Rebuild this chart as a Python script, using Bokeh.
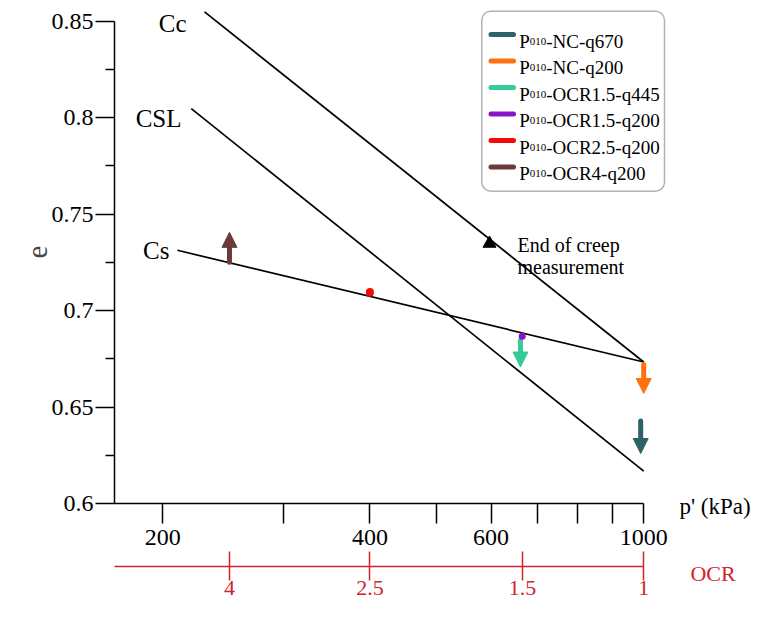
from bokeh.plotting import figure
from bokeh.layouts import row
from bokeh.models import (Range1d, LogAxis, LinearAxis, FixedTicker, Label, BoxAnnotation, Arrow,
                          NormalHead, LogScale)
from bokeh.embed import file_html
from bokeh.resources import INLINE

# ---------------- data ----------------
p_ticks = [200, 300, 400, 500, 600, 700, 800, 900, 1000]
p_tick_labels = ["200", "", "400", "", "600", "", "", "", "1000"]
e_ticks = [0.6, 0.65, 0.7, 0.75, 0.8, 0.85]
e_tick_labels = ["0.6", "0.65", "0.7", "0.75", "0.8", "0.85"]
e_minor_ticks = [0.625, 0.675, 0.725, 0.775, 0.825]
ocr_ticks = [4, 2.5, 1.5, 1]
ocr_tick_labels = ["4", "2.5", "1.5", "1"]

cc_p = [230, 1000]
cc_e = [0.8547, 0.6733]
csl_p = [220, 1000]
csl_e = [0.8046, 0.6168]
cs_p = [210, 1000]
cs_e = [0.7312, 0.6733]

tests = ["NC-q670", "NC-q200", "OCR1.5-q445", "OCR1.5-q200", "OCR2.5-q200", "OCR4-q200"]
test_p = [990, 1000, 662, 666, 400, 250]
test_e_start = [0.6427, 0.6720, 0.6846, 0.6866, 0.7096, 0.7250]
test_e_end = [0.6259, 0.6570, 0.6707, 0.6866, 0.7092, 0.7405]

# ---------------- styles ----------------
FONT = "Liberation Serif"
RED = "#D0242B"
test_colors = ["#2E6366", "#FF7010", "#36C99A", "#8A12C8", "#F50A0A", "#6B3A3A"]
shaft_widths = [5, 5, 5, 7, 8, 5]
HEAD = 15

# layout helpers (canvas pixel -> data coordinate)
X200, PX_PER_DEC = 162.3, 688.0
FRAME_L, FRAME_R, FRAME_B = 114, 670, 503
PX_PER_E = 1930.0
def px2p(x):
    return 200 * 10 ** ((x - X200) / PX_PER_DEC)
def py2e(y):
    return 0.6 + (FRAME_B - y) / PX_PER_E

W, H = 752, 604
x_start, x_end = px2p(FRAME_L), px2p(FRAME_R)
y_start, y_end = 0.6, py2e(0)

p = figure(width=FRAME_R, height=H, x_axis_type="log",
           x_range=Range1d(x_start, x_end), y_range=Range1d(y_start, y_end),
           output_backend="svg", toolbar_location=None,
           min_border_left=FRAME_L, min_border_right=0, min_border_top=0,
           min_border_bottom=H - FRAME_B)
p.outline_line_color = None
p.grid.visible = False

# ---- x axis (p') ----
xa = p.xaxis[0]
xa.ticker = FixedTicker(ticks=p_ticks, minor_ticks=[])
xa.major_label_overrides = {t: l for t, l in zip(p_ticks, p_tick_labels)}
xa.bounds = (x_start, max(p_ticks))
xa.major_tick_out = 20
xa.major_tick_in = 0
xa.minor_tick_out = 0
xa.minor_tick_in = 0
xa.axis_line_width = 1.5
xa.major_tick_line_width = 1.5
xa.major_label_text_font = FONT
xa.major_label_text_font_size = "24px"
xa.major_label_text_color = "black"
xa.major_label_standoff = 6
xa.axis_label = "\u00a0"
xa.axis_label_text_font_size = "10px"
xa.axis_label_standoff = 5

# ---- OCR axis ----
p.extra_x_ranges = {"ocr": Range1d(1000 / x_start, 1000 / x_end)}
p.extra_x_scales = {"ocr": LogScale()}
oa = LogAxis(x_range_name="ocr", ticker=FixedTicker(ticks=ocr_ticks, minor_ticks=[]))
oa.major_label_overrides = {t: l for t, l in zip(ocr_ticks, ocr_tick_labels)}
oa.bounds = (1, 1000 / px2p(107.3))
oa.axis_line_color = RED
oa.axis_line_width = 1.5
oa.major_tick_line_color = RED
oa.major_tick_line_width = 1.5
oa.major_tick_in = 15
oa.major_tick_out = 14
oa.minor_tick_in = 0
oa.minor_tick_out = 0
oa.major_label_text_font = FONT
oa.major_label_text_font_size = "22px"
oa.major_label_text_color = RED
oa.major_label_standoff = 0
p.add_layout(oa, "below")

# ---- y axis ----
ya = p.yaxis[0]
ya.ticker = FixedTicker(ticks=e_ticks, minor_ticks=e_minor_ticks)
ya.major_label_overrides = {t: l for t, l in zip(e_ticks, e_tick_labels)}
ya.bounds = (min(e_ticks), max(e_ticks))
ya.major_tick_out = 19
ya.major_tick_in = 0
ya.minor_tick_out = 9
ya.minor_tick_in = 0
ya.axis_line_width = 1.5
ya.major_tick_line_width = 1.5
ya.minor_tick_line_width = 1.5
ya.major_label_text_font = FONT
ya.major_label_text_font_size = "24px"
ya.major_label_text_color = "black"
ya.major_label_standoff = 2
ya.axis_label = "e"
ya.axis_label_text_font = FONT
ya.axis_label_text_font_size = "29px"
ya.axis_label_text_font_style = "normal"
ya.axis_label_standoff = 2

# ---- reference lines ----
for xs, ys in [(cc_p, cc_e), (csl_p, csl_e), (cs_p, cs_e)]:
    p.line(xs, ys, line_color="black", line_width=1.7)

for txt, xr, yc in [("Cc", 186, 23), ("CSL", 181, 118), ("Cs", 169, 250)]:
    p.add_layout(Label(x=px2p(xr), y=py2e(yc), text=txt, text_align="right",
                       text_baseline="middle", text_font=FONT, text_font_size="25px",
                       text_color="black"))

# ---- creep measurements ----
for i in range(len(tests)):
    d = test_e_end[i] - test_e_start[i]
    c = test_colors[i]
    has_head = abs(d) > 0.005
    sign = 1 if d > 0 else -1
    e_shaft_end = test_e_end[i] - sign * (HEAD - 2) / PX_PER_E if has_head else test_e_end[i]
    p.segment(x0=[test_p[i]], y0=[test_e_start[i]], x1=[test_p[i]], y1=[e_shaft_end],
              line_color=c, line_width=shaft_widths[i], line_cap="round")
    if has_head:
        p.add_layout(Arrow(end=NormalHead(size=HEAD, fill_color=c, line_color=c, line_width=1),
                           x_start=test_p[i], y_start=test_e_start[i],
                           x_end=test_p[i], y_end=test_e_end[i], line_alpha=0))

# ---- legend (drawn by hand) ----
p.add_layout(BoxAnnotation(left=px2p(481.3), right=px2p(664), top=py2e(10.7), bottom=py2e(190.7),
                           fill_color="white", fill_alpha=1, line_color="black", line_width=1.5,
                           border_radius=9, level="underlay"))
for i, name in enumerate(tests):
    yc = 34 + i * 26.5
    p.segment(x0=[px2p(490.5)], y0=[py2e(yc)], x1=[px2p(513)], y1=[py2e(yc)],
              line_color=test_colors[i], line_width=5, line_cap="round")
    base = py2e(yc + 6.5)
    p.add_layout(Label(x=px2p(518.7), y=base, text="P", text_baseline="alphabetic",
                       text_font=FONT, text_font_size="19px", text_color="black"))
    p.add_layout(Label(x=px2p(518.7), x_offset=10.6, y=base, text="010", text_baseline="alphabetic",
                       text_font=FONT, text_font_size="11px", text_color="black"))
    p.add_layout(Label(x=px2p(518.7), x_offset=27, y=base, text="-" + name,
                       text_baseline="alphabetic", text_font=FONT, text_font_size="19px",
                       text_color="black"))

p.scatter(x=[px2p(489)], y=[py2e(243)], marker="triangle", size=13, fill_color="black",
          line_color="black")
p.add_layout(Label(x=px2p(517), y=py2e(244), text="End of creep", text_baseline="middle",
                   text_font=FONT, text_font_size="20px", text_color="black"))
p.add_layout(Label(x=px2p(517), y=py2e(266), text="measurement", text_baseline="middle",
                   text_font=FONT, text_font_size="20px", text_color="black"))

# ---- side strip holding the axis titles to the right of the axes ----
q = figure(width=W - FRAME_R, height=H, x_range=Range1d(FRAME_R, W), y_range=Range1d(0, 1),
           output_backend="svg", toolbar_location=None, x_axis_location=None,
           y_axis_location=None, min_border=0)
q.outline_line_color = None
q.grid.visible = False

def title_axis(xc, text, color, size, standoff):
    ax = LinearAxis(ticker=FixedTicker(ticks=[xc], minor_ticks=[]))
    ax.major_label_overrides = {xc: text}
    ax.axis_line_color = None
    ax.major_tick_line_color = None
    ax.minor_tick_line_color = None
    ax.major_tick_out = 0
    ax.major_tick_in = 0
    ax.minor_tick_out = 0
    ax.minor_tick_in = 0
    ax.major_label_text_font = FONT
    ax.major_label_text_font_size = size
    ax.major_label_text_color = color
    ax.major_label_standoff = standoff
    q.add_layout(ax, "below")

title_axis(714.5, "p' (kPa)", "black", "23px", -10)
title_axis(712.5, "OCR", RED, "22px", 39)

layout = row(p, q, spacing=0)
open("out.html", "w").write(file_html(layout, INLINE))
